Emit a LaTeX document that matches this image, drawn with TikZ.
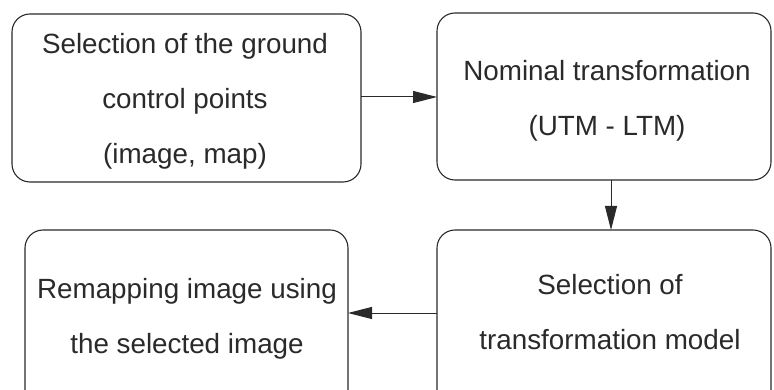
\documentclass[tikz,border=0pt]{standalone}
\usepackage{fontspec}
\setmainfont{Liberation Sans}
\usetikzlibrary{arrows.meta}
\definecolor{ink}{HTML}{2A2A2A}
\begin{document}
\begin{tikzpicture}[x=1pt,y=-1pt,
  box/.style={draw=ink, line width=1.1pt, rounded corners=18pt, inner sep=0pt, outer sep=0pt},
  txt/.style={text=ink, align=center, inner sep=0pt, font=\fontsize{27.8}{55}\selectfont},
  arr/.style={draw=ink, line width=1pt, -{Triangle[length=24pt,width=12pt]}}]
\useasboundingbox (0,0) rectangle (774,390);
\clip (0,0) rectangle (774,390);
\fill[white] (0,0) rectangle (774,390);
\node[box, minimum width=349pt, minimum height=168pt] (b1) at (186.5,98) {};
\node[box, minimum width=334pt, minimum height=167pt] (b2) at (604,96.5) {};
\node[box, minimum width=323pt, minimum height=180pt] (b3) at (186.5,320) {};
\node[box, minimum width=334pt, minimum height=180pt] (b4) at (604,320) {};
\node[txt] (t1) at (185,101.7) {Selection of the ground\\control points\\(image, map)};
\node[txt] (t2) at (607,101.3) {Nominal transformation\\(UTM - LTM)};
\node[txt] (t3) at (187,318.8) {Remapping image using\\the selected image};
\node[txt] (t4) at (610,312.3) {Selection of\\transformation model};
\draw[arr] ([yshift=1pt]b1.east) -- ([yshift=1pt]b1.east -| b2.west);
\draw[arr] ([xshift=7pt]b2.south) -- ([xshift=7pt]b2.south |- b4.north);
\draw[arr] ([yshift=7pt]b4.west) -- ([yshift=7pt]b4.west -| b3.east);
\end{tikzpicture}
\end{document}
